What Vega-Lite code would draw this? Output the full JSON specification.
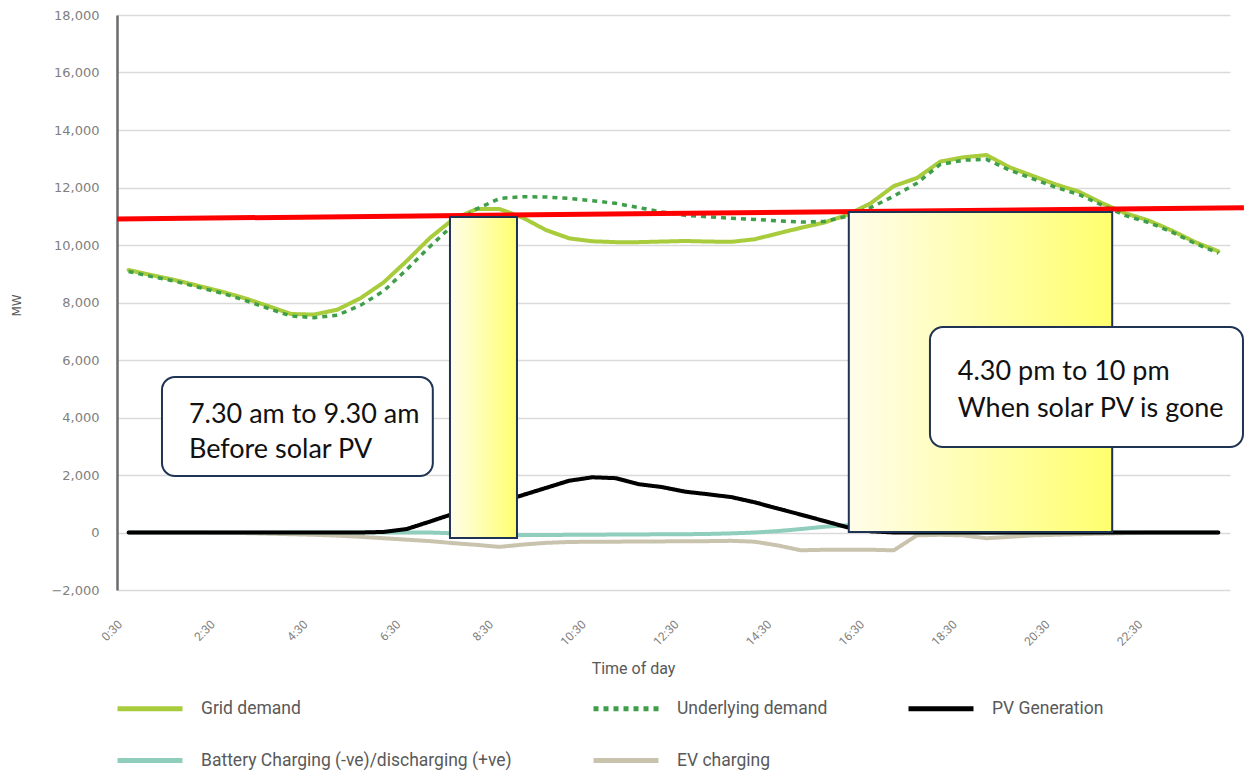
{
  "$schema": "https://vega.github.io/schema/vega-lite/v6.json",
  "width": 1113,
  "height": 575,
  "autosize": {"type": "none"},
  "padding": {"left": 117, "top": 15, "right": 24, "bottom": 183},
  "background": "white",
  "config": {
    "view": {"stroke": null},
    "legend": {
      "orient": "none",
      "direction": "horizontal",
      "legendX": 17.5,
      "legendY": 678,
      "columns": 3,
      "columnPadding": 71,
      "rowPadding": 26,
      "symbolType": "M-2.5,0H2.5",
      "symbolSize": 676,
      "symbolStrokeWidth": 5,
      "labelFont": "Roboto",
      "labelFontSize": 17.5,
      "labelColor": "#595959",
      "labelOffset": 35.5,
      "labelLimit": 500,
      "title": null
    }
  },
  "layer": [
    {
      "data": {
        "values": [
          {"t": 0.5, "Grid demand": 9130, "Underlying demand": 9080, "PV Generation": 0, "Battery Charging (-ve)/discharging (+ve)": 0, "EV charging": 0},
          {"t": 1.0, "Grid demand": 8950, "Underlying demand": 8900, "PV Generation": 0, "Battery Charging (-ve)/discharging (+ve)": 0, "EV charging": 0},
          {"t": 1.5, "Grid demand": 8780, "Underlying demand": 8740, "PV Generation": 0, "Battery Charging (-ve)/discharging (+ve)": 0, "EV charging": 0},
          {"t": 2.0, "Grid demand": 8580, "Underlying demand": 8530, "PV Generation": 0, "Battery Charging (-ve)/discharging (+ve)": 0, "EV charging": 0},
          {"t": 2.5, "Grid demand": 8380, "Underlying demand": 8330, "PV Generation": 0, "Battery Charging (-ve)/discharging (+ve)": 0, "EV charging": -10},
          {"t": 3.0, "Grid demand": 8150, "Underlying demand": 8080, "PV Generation": 0, "Battery Charging (-ve)/discharging (+ve)": 0, "EV charging": -20},
          {"t": 3.5, "Grid demand": 7880, "Underlying demand": 7800, "PV Generation": 0, "Battery Charging (-ve)/discharging (+ve)": 0, "EV charging": -40},
          {"t": 4.0, "Grid demand": 7600, "Underlying demand": 7530, "PV Generation": 0, "Battery Charging (-ve)/discharging (+ve)": 0, "EV charging": -60},
          {"t": 4.5, "Grid demand": 7580, "Underlying demand": 7470, "PV Generation": 0, "Battery Charging (-ve)/discharging (+ve)": 0, "EV charging": -80},
          {"t": 5.0, "Grid demand": 7750, "Underlying demand": 7560, "PV Generation": 0, "Battery Charging (-ve)/discharging (+ve)": 0, "EV charging": -110},
          {"t": 5.5, "Grid demand": 8150, "Underlying demand": 7900, "PV Generation": 0, "Battery Charging (-ve)/discharging (+ve)": 0, "EV charging": -150},
          {"t": 6.0, "Grid demand": 8700, "Underlying demand": 8400, "PV Generation": 20, "Battery Charging (-ve)/discharging (+ve)": 0, "EV charging": -200},
          {"t": 6.5, "Grid demand": 9450, "Underlying demand": 9150, "PV Generation": 120, "Battery Charging (-ve)/discharging (+ve)": 0, "EV charging": -250},
          {"t": 7.0, "Grid demand": 10250, "Underlying demand": 9950, "PV Generation": 380, "Battery Charging (-ve)/discharging (+ve)": 0, "EV charging": -300},
          {"t": 7.5, "Grid demand": 10900, "Underlying demand": 10700, "PV Generation": 650, "Battery Charging (-ve)/discharging (+ve)": -30, "EV charging": -370},
          {"t": 8.0, "Grid demand": 11250, "Underlying demand": 11250, "PV Generation": 850, "Battery Charging (-ve)/discharging (+ve)": -60, "EV charging": -430},
          {"t": 8.5, "Grid demand": 11250, "Underlying demand": 11620, "PV Generation": 1050, "Battery Charging (-ve)/discharging (+ve)": -80, "EV charging": -500},
          {"t": 9.0, "Grid demand": 10950, "Underlying demand": 11680, "PV Generation": 1300, "Battery Charging (-ve)/discharging (+ve)": -90, "EV charging": -420},
          {"t": 9.5, "Grid demand": 10520, "Underlying demand": 11670, "PV Generation": 1550, "Battery Charging (-ve)/discharging (+ve)": -90, "EV charging": -360},
          {"t": 10.0, "Grid demand": 10230, "Underlying demand": 11620, "PV Generation": 1800, "Battery Charging (-ve)/discharging (+ve)": -80, "EV charging": -330},
          {"t": 10.5, "Grid demand": 10130, "Underlying demand": 11540, "PV Generation": 1920, "Battery Charging (-ve)/discharging (+ve)": -80, "EV charging": -320},
          {"t": 11.0, "Grid demand": 10100, "Underlying demand": 11450, "PV Generation": 1890, "Battery Charging (-ve)/discharging (+ve)": -70, "EV charging": -320},
          {"t": 11.5, "Grid demand": 10100, "Underlying demand": 11300, "PV Generation": 1680, "Battery Charging (-ve)/discharging (+ve)": -70, "EV charging": -310},
          {"t": 12.0, "Grid demand": 10120, "Underlying demand": 11150, "PV Generation": 1580, "Battery Charging (-ve)/discharging (+ve)": -60, "EV charging": -310},
          {"t": 12.5, "Grid demand": 10140, "Underlying demand": 11030, "PV Generation": 1420, "Battery Charging (-ve)/discharging (+ve)": -60, "EV charging": -300},
          {"t": 13.0, "Grid demand": 10120, "Underlying demand": 10980, "PV Generation": 1330, "Battery Charging (-ve)/discharging (+ve)": -50, "EV charging": -300},
          {"t": 13.5, "Grid demand": 10110, "Underlying demand": 10930, "PV Generation": 1230, "Battery Charging (-ve)/discharging (+ve)": -30, "EV charging": -290},
          {"t": 14.0, "Grid demand": 10200, "Underlying demand": 10890, "PV Generation": 1050, "Battery Charging (-ve)/discharging (+ve)": 0, "EV charging": -320},
          {"t": 14.5, "Grid demand": 10400, "Underlying demand": 10840, "PV Generation": 830, "Battery Charging (-ve)/discharging (+ve)": 50, "EV charging": -450},
          {"t": 15.0, "Grid demand": 10600, "Underlying demand": 10800, "PV Generation": 620, "Battery Charging (-ve)/discharging (+ve)": 120, "EV charging": -620},
          {"t": 15.5, "Grid demand": 10780, "Underlying demand": 10820, "PV Generation": 400, "Battery Charging (-ve)/discharging (+ve)": 200, "EV charging": -600},
          {"t": 16.0, "Grid demand": 11050, "Underlying demand": 11000, "PV Generation": 180, "Battery Charging (-ve)/discharging (+ve)": 250, "EV charging": -600},
          {"t": 16.5, "Grid demand": 11450, "Underlying demand": 11300, "PV Generation": 40, "Battery Charging (-ve)/discharging (+ve)": 150, "EV charging": -600},
          {"t": 17.0, "Grid demand": 12050, "Underlying demand": 11700, "PV Generation": 0, "Battery Charging (-ve)/discharging (+ve)": 30, "EV charging": -620},
          {"t": 17.5, "Grid demand": 12330, "Underlying demand": 12150, "PV Generation": 0, "Battery Charging (-ve)/discharging (+ve)": 0, "EV charging": -100},
          {"t": 18.0, "Grid demand": 12900, "Underlying demand": 12800, "PV Generation": 0, "Battery Charging (-ve)/discharging (+ve)": 0, "EV charging": -80},
          {"t": 18.5, "Grid demand": 13050, "Underlying demand": 12950, "PV Generation": 0, "Battery Charging (-ve)/discharging (+ve)": 0, "EV charging": -100},
          {"t": 19.0, "Grid demand": 13130, "Underlying demand": 12980, "PV Generation": 0, "Battery Charging (-ve)/discharging (+ve)": 0, "EV charging": -200},
          {"t": 19.5, "Grid demand": 12700, "Underlying demand": 12600, "PV Generation": 0, "Battery Charging (-ve)/discharging (+ve)": 0, "EV charging": -150},
          {"t": 20.0, "Grid demand": 12400, "Underlying demand": 12300, "PV Generation": 0, "Battery Charging (-ve)/discharging (+ve)": 0, "EV charging": -100},
          {"t": 20.5, "Grid demand": 12100, "Underlying demand": 12000, "PV Generation": 0, "Battery Charging (-ve)/discharging (+ve)": 0, "EV charging": -80},
          {"t": 21.0, "Grid demand": 11850, "Underlying demand": 11750, "PV Generation": 0, "Battery Charging (-ve)/discharging (+ve)": 0, "EV charging": -60},
          {"t": 21.5, "Grid demand": 11450, "Underlying demand": 11380, "PV Generation": 0, "Battery Charging (-ve)/discharging (+ve)": 0, "EV charging": -40},
          {"t": 22.0, "Grid demand": 11100, "Underlying demand": 11020, "PV Generation": 0, "Battery Charging (-ve)/discharging (+ve)": 0, "EV charging": -20},
          {"t": 22.5, "Grid demand": 10850, "Underlying demand": 10780, "PV Generation": 0, "Battery Charging (-ve)/discharging (+ve)": 0, "EV charging": 0},
          {"t": 23.0, "Grid demand": 10500, "Underlying demand": 10450, "PV Generation": 0, "Battery Charging (-ve)/discharging (+ve)": 0, "EV charging": 0},
          {"t": 23.5, "Grid demand": 10100, "Underlying demand": 10050, "PV Generation": 0, "Battery Charging (-ve)/discharging (+ve)": 0, "EV charging": 0},
          {"t": 24.0, "Grid demand": 9780, "Underlying demand": 9720, "PV Generation": 0, "Battery Charging (-ve)/discharging (+ve)": 0, "EV charging": 0}
        ]
      },
      "transform": [
        {"fold": ["Grid demand", "Underlying demand", "PV Generation", "Battery Charging (-ve)/discharging (+ve)", "EV charging"], "as": ["series", "MW"]}
      ],
      "encoding": {
        "x": {
          "field": "t",
          "type": "quantitative",
          "scale": {"domain": [0.25, 24.25], "nice": false, "zero": false},
          "axis": {
            "title": "Time of day",
            "titleFont": "Roboto",
            "titleFontSize": 16,
            "titleFontWeight": "normal",
            "titleColor": "#595959",
            "titleX": 516,
            "titleY": 78,
            "titleBaseline": "middle",
            "values": [0.5, 2.5, 4.5, 6.5, 8.5, 10.5, 12.5, 14.5, 16.5, 18.5, 20.5, 22.5],
            "labelExpr": "floor(datum.value) + ':30'",
            "labelAngle": -45,
            "labelAlign": "right",
            "labelBaseline": "middle",
            "labelPadding": 32,
            "labelOffset": -9,
            "labelFont": "Roboto",
            "labelFontSize": 12,
            "labelColor": "#7f7f7f",
            "domain": false,
            "ticks": false,
            "grid": false
          }
        },
        "y": {
          "field": "MW",
          "type": "quantitative",
          "scale": {"domain": [-2000, 18000], "nice": false},
          "axis": {
            "title": "MW",
            "titleFont": "DejaVu Sans",
            "titleFontSize": 12,
            "titleFontWeight": "normal",
            "titleColor": "#595959",
            "titleX": -101,
            "titleY": 290,
            "titleAlign": "center",
            "titleBaseline": "middle",
            "values": [-2000, 0, 2000, 4000, 6000, 8000, 10000, 12000, 14000, 16000, 18000],
            "format": ",.0f",
            "labelFont": "DejaVu Sans",
            "labelFontSize": 13,
            "labelColor": "#808080",
            "labelPadding": 18,
            "ticks": false,
            "domainColor": "#6b6b6b",
            "domainWidth": 2.5,
            "gridColor": "#dadada",
            "gridWidth": 1.5
          }
        },
        "color": {
          "field": "series",
          "type": "nominal",
          "scale": {
            "domain": ["Grid demand", "Underlying demand", "PV Generation", "Battery Charging (-ve)/discharging (+ve)", "EV charging"],
            "range": ["#a8cc3c", "#3f9e4a", "#000000", "#8fcdbd", "#c9c3ae"]
          }
        },
        "strokeDash": {
          "field": "series",
          "type": "nominal",
          "scale": {
            "domain": ["Grid demand", "Underlying demand", "PV Generation", "Battery Charging (-ve)/discharging (+ve)", "EV charging"],
            "range": [[1, 0], [5, 5], [1, 0], [1, 0], [1, 0]]
          }
        }
      },
      "layer": [
        {"transform": [{"filter": "datum.series === 'EV charging'"}], "mark": {"type": "line", "strokeWidth": 4, "strokeJoin": "round"}},
        {"transform": [{"filter": "datum.series === 'Battery Charging (-ve)/discharging (+ve)'"}], "mark": {"type": "line", "strokeWidth": 4, "strokeJoin": "round"}},
        {"transform": [{"filter": "datum.series === 'PV Generation'"}], "mark": {"type": "line", "strokeWidth": 4, "strokeJoin": "round", "strokeCap": "round"}},
        {"transform": [{"filter": "datum.series === 'Grid demand'"}], "mark": {"type": "line", "strokeWidth": 4, "strokeJoin": "round", "strokeCap": "round"}},
        {"transform": [{"filter": "datum.series === 'Underlying demand'"}], "mark": {"type": "line", "strokeWidth": 3.5, "strokeJoin": "round"}}
      ]
    },
    {
      "data": {"values": [{"x1": 0.25, "x2": 24.55, "y1": 10904, "y2": 11297}]},
      "mark": {"type": "rule", "color": "#ff0000", "strokeWidth": 5, "clip": false},
      "encoding": {
        "x": {"field": "x1", "type": "quantitative"},
        "x2": {"field": "x2"},
        "y": {"field": "y1", "type": "quantitative"},
        "y2": {"field": "y2"}
      }
    },
    {
      "data": {"values": [
        {"x1": 7.43, "x2": 8.875, "y1": -191, "y2": 10974},
        {"x1": 16.03, "x2": 21.71, "y1": 17, "y2": 11148}
      ]},
      "mark": {
        "type": "rect",
        "clip": false,
        "fill": {"gradient": "linear", "x1": 0, "y1": 0, "x2": 1, "y2": 0, "stops": [{"offset": 0, "color": "#fffdea"}, {"offset": 1, "color": "#ffff6e"}]},
        "stroke": "#1f3354",
        "strokeWidth": 2
      },
      "encoding": {
        "x": {"field": "x1", "type": "quantitative"},
        "x2": {"field": "x2"},
        "y": {"field": "y1", "type": "quantitative"},
        "y2": {"field": "y2"}
      }
    },
    {
      "data": {"values": [
        {"x1": 1.22, "x2": 7.06, "y1": 1965, "y2": 5409},
        {"x1": 17.78, "x2": 24.53, "y1": 2974, "y2": 7148}
      ]},
      "mark": {"type": "rect", "clip": false, "fill": "white", "stroke": "#1f3354", "strokeWidth": 2, "cornerRadius": 13},
      "encoding": {
        "x": {"field": "x1", "type": "quantitative"},
        "x2": {"field": "x2"},
        "y": {"field": "y1", "type": "quantitative"},
        "y2": {"field": "y2"}
      }
    },
    {
      "data": {"values": [
        {"x": 1.8, "y": 3809, "label": "7.30 am to 9.30 am"},
        {"x": 1.8, "y": 2591, "label": "Before solar PV"},
        {"x": 18.38, "y": 5304, "label": "4.30 pm to 10 pm"},
        {"x": 18.38, "y": 4017, "label": "When solar PV is gone"}
      ]},
      "mark": {"type": "text", "align": "left", "baseline": "alphabetic", "font": "Lato", "fontSize": 27, "color": "#111111", "clip": false},
      "encoding": {
        "x": {"field": "x", "type": "quantitative"},
        "y": {"field": "y", "type": "quantitative"},
        "text": {"field": "label"}
      }
    }
  ]
}
